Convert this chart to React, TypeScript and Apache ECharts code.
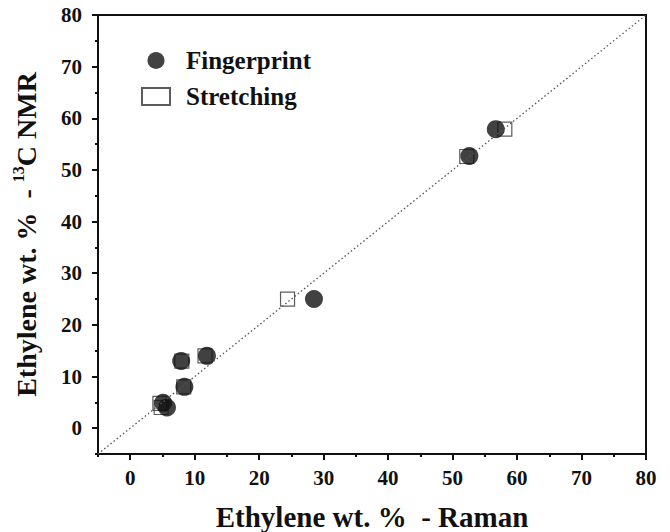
import React, { useEffect, useRef } from "react";
import * as echarts from "echarts";

const fingerprintX = [5.1, 5.7, 7.9, 8.4, 11.9, 28.5, 52.6, 56.7];
const fingerprintY = [4.9, 4.0, 13.0, 8.0, 14.0, 25.0, 52.7, 57.9];
const stretchingX = [4.6, 4.8, 8.0, 8.3, 11.6, 24.4, 52.2, 58.1];
const stretchingY = [4.8, 4.0, 13.0, 8.0, 14.0, 25.0, 52.6, 57.9];
const diagonal = [[-5, -5], [80, 80]];
const majorTicks = [0, 10, 20, 30, 40, 50, 60, 70, 80];
const minorTicks = [-5, 5, 15, 25, 35, 45, 55, 65, 75];

const FONT = "'Liberation Serif', 'Times New Roman', serif";
const INK = "#111111";

export default function App() {
  const ref = useRef<HTMLDivElement>(null);
  useEffect(() => {
    if (!ref.current) return;
    const chart = echarts.init(ref.current, null, { renderer: "svg" });
    const pairs = (xs: number[], ys: number[]) => xs.map((x, i) => [x, ys[i]]);
    const axisCommon = () => ({
      min: -5,
      max: 80,
      type: "value" as const,
      splitLine: { show: false },
      axisLine: { show: true, onZero: false, lineStyle: { color: INK, width: 2 } },
    });
    chart.setOption({
      animation: false,
      backgroundColor: "#ffffff",
      grid: {
        left: 98,
        right: 24,
        top: 15,
        bottom: 78,
        show: true,
        borderColor: INK,
        borderWidth: 2,
        containLabel: false,
        outerBoundsMode: "none",
      },
      legend: {
        orient: "vertical",
        left: 141,
        top: 48,
        padding: 0,
        itemWidth: 28,
        itemHeight: 17,
        itemGap: 11,
        data: ["Fingerprint", "Stretching"],
        textStyle: {
          fontFamily: FONT,
          fontWeight: "bold",
          fontSize: 25,
          color: INK,
          padding: [0, 0, 0, 11],
        },
      },
      xAxis: [
        {
          ...axisCommon(),
          position: "bottom",
          name: "Ethylene wt. %  - Raman",
          nameLocation: "middle",
          nameGap: 48,
          nameTextStyle: { fontFamily: FONT, fontWeight: "bold", fontSize: 29, color: INK },
          axisTick: { show: true, inside: false, length: 6, lineStyle: { color: INK, width: 2 }, customValues: majorTicks },
          axisLabel: {
            customValues: majorTicks,
            fontFamily: FONT,
            fontWeight: "bold",
            fontSize: 21,
            color: INK,
            margin: 13,
          },
        },
        {
          ...axisCommon(),
          position: "bottom",
          axisTick: { show: true, inside: false, length: 3, lineStyle: { color: INK, width: 2 }, customValues: minorTicks },
          axisLabel: { show: false },
        },
      ],
      yAxis: [
        {
          ...axisCommon(),
          position: "left",
          name: "{t|Ethylene wt. %  - }{s|13}{t|C NMR}",
          nameLocation: "middle",
          nameGap: 56,
          nameTextStyle: {
            fontFamily: FONT,
            fontWeight: "bold",
            fontSize: 28,
            color: INK,
            rich: {
              t: { fontFamily: FONT, fontWeight: "bold", fontSize: 28, color: INK, lineHeight: 32 },
              s: { fontFamily: FONT, fontWeight: "bold", fontSize: 16, color: INK, lineHeight: 16, verticalAlign: "top" },
            },
          },
          axisTick: { show: true, inside: false, length: 6, lineStyle: { color: INK, width: 2 }, customValues: majorTicks },
          axisLabel: {
            customValues: majorTicks,
            fontFamily: FONT,
            fontWeight: "bold",
            fontSize: 21,
            color: INK,
            margin: 16,
          },
        },
        {
          ...axisCommon(),
          position: "left",
          axisTick: { show: true, inside: false, length: 3, lineStyle: { color: INK, width: 2 }, customValues: minorTicks },
          axisLabel: { show: false },
        },
      ],
      series: [
        {
          type: "line",
          name: "diagonal",
          data: diagonal,
          symbol: "none",
          silent: true,
          lineStyle: { color: "#555", width: 1.3, type: [1.5, 2.5] },
        },
        {
          type: "scatter",
          name: "Stretching",
          data: pairs(stretchingX, stretchingY),
          symbol: "rect",
          symbolSize: 14,
          itemStyle: { color: "rgba(255,255,255,0)", borderColor: "#333", borderWidth: 1.2 },
        },
        {
          type: "scatter",
          name: "Fingerprint",
          data: pairs(fingerprintX, fingerprintY),
          symbol: "circle",
          symbolSize: 18,
          itemStyle: { color: INK },
        },
      ],
    });
    return () => chart.dispose();
  }, []);
  return (
    <div
      ref={ref}
      style={{ position: "fixed", left: 0, top: 0, width: 670, height: 532, background: "#fff" }}
    />
  );
}
